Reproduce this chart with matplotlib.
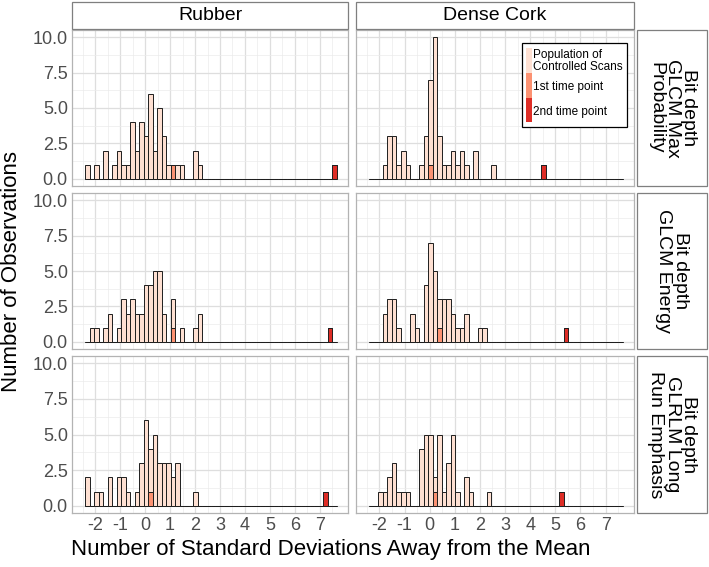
import numpy as np
import matplotlib
matplotlib.use("Agg")
import matplotlib.pyplot as plt
from matplotlib.patches import Rectangle

plt.rcParams['font.family'] = ['Liberation Sans', 'DejaVu Sans']

W, H = 709, 567

# shared histogram bins (in standard deviations)
bin_start = -2.4
bin_width = 0.18
n_bins = 56

materials = ["Rubber", "Dense Cork"]
features = ["Bit depth\nGLCM Max\nProbability",
            "Bit depth\nGLCM Energy",
            "Bit depth\nGLRLM Long\nRun Emphasis"]

# population of controlled scans: counts for the first 28 bins (the rest are empty)
rubber_max_prob = [1, 0, 1, 0, 2, 0, 1, 2, 1, 1, 4, 2, 4, 3, 6, 2, 5, 3, 1, 0, 1, 1, 0, 0, 2, 1, 0, 0]
rubber_energy = [0, 1, 1, 0, 1, 2, 0, 1, 3, 2, 3, 2, 2, 4, 4, 5, 5, 2, 0, 2, 0, 1, 0, 0, 1, 2, 0, 0]
rubber_long_run = [2, 0, 1, 1, 0, 2, 0, 2, 2, 1, 0, 1, 3, 6, 3, 5, 3, 3, 3, 2, 3, 0, 0, 0, 1, 0, 0, 0]
cork_max_prob = [0, 0, 0, 1, 3, 3, 1, 2, 1, 0, 0, 1, 3, 6, 10, 3, 1, 1, 2, 1, 2, 1, 0, 2, 0, 0, 0, 1]
cork_energy = [0, 0, 0, 2, 3, 3, 1, 0, 0, 2, 1, 0, 4, 7, 5, 2, 3, 3, 2, 1, 1, 2, 0, 0, 1, 1, 0, 0]
cork_long_run = [0, 0, 1, 1, 2, 3, 1, 1, 1, 0, 0, 4, 5, 5, 1, 5, 1, 3, 5, 1, 0, 2, 1, 0, 0, 0, 1, 0]

# the two follow-up scans (SD away from the mean), rows = features, cols = materials
first_point = [[1.11, 0.03], [1.11, 0.39], [0.21, 0.21]]
second_point = [[7.59, 4.53], [7.41, 5.43], [7.23, 5.25]]

population = [[rubber_max_prob, cork_max_prob],
              [rubber_energy, cork_energy],
              [rubber_long_run, cork_long_run]]

group_labels = ["Population of\nControlled Scans", "1st time point", "2nd time point"]
group_colors = ["#FEE0D2", "#FC9272", "#DE2D26"]

x_ticks = list(range(-2, 8))
y_ticks = [0, 2.5, 5, 7.5, 10]


def fx(px):
    return px / W


def fy(py):
    return 1 - py / H


fig = plt.figure(figsize=(W / 100, H / 100), dpi=100)

col_px = [(72, 348), (356, 634)]
row_px = [(30, 186), (193, 349), (356, 513)]
edges = bin_start + bin_width * np.arange(n_bins + 1)
centers = edges[:-1] + bin_width / 2

for r, (top, bot) in enumerate(row_px):
    for c, (left, right) in enumerate(col_px):
        ax = fig.add_axes([fx(left), fy(bot), fx(right) - fx(left), (bot - top) / H])
        pop = np.pad(population[r][c], (0, n_bins - len(population[r][c])))
        first = np.histogram([first_point[r][c]], bins=edges)[0]
        second = np.histogram([second_point[r][c]], bins=edges)[0]
        bottom = np.zeros(n_bins)
        for counts, color in [(second, group_colors[2]), (first, group_colors[1]), (pop, group_colors[0])]:
            ax.bar(centers, counts, width=bin_width, bottom=bottom, color=color,
                   edgecolor="#1E1E1E", linewidth=0.7, zorder=3)
            bottom = bottom + counts

        ax.set_xlim(-2.93, 8.13)
        ax.set_ylim(-0.5, 10.5)
        ax.set_xticks(x_ticks)
        ax.set_xticks(np.arange(-2.5, 8, 1), minor=True)
        ax.set_yticks(y_ticks)
        ax.set_yticks([1.25, 3.75, 6.25, 8.75], minor=True)
        ax.grid(which="major", color="#DEDEDE", linewidth=0.9, zorder=0)
        ax.grid(which="minor", color="#EBEBEB", linewidth=0.5, zorder=0)
        ax.set_axisbelow(True)
        ax.tick_params(which="both", length=0, labelsize=13, colors="#4D4D4D", pad=3)
        for s in ax.spines.values():
            s.set_color("#B3B3B3")
            s.set_linewidth(0.9)
        if c == 0:
            ax.set_yticklabels(["0.0", "2.5", "5.0", "7.5", "10.0"])
        else:
            ax.set_yticklabels([])
        if r == 2:
            ax.set_xticklabels([str(t) for t in x_ticks])
        else:
            ax.set_xticklabels([])

        if r == 0 and c == 1:
            # legend drawn inside the top-right panel
            lx0, ly0, lx1, ly1 = 521.7, 43.3, 627.3, 126.7
            fig.add_artist(Rectangle((fx(lx0), fy(ly1)), fx(lx1) - fx(lx0), (ly1 - ly0) / H,
                                     transform=fig.transFigure, facecolor="white",
                                     edgecolor="black", linewidth=0.9, zorder=10))
            keys = [(48.3, 73.3), (73.3, 97.7), (98.3, 121.7)]
            text_y = [61.2, 86.7, 111.7]
            for (k0, k1), ty, lab, col in zip(keys, text_y, group_labels, group_colors):
                fig.add_artist(Rectangle((fx(526), fy(k1)), fx(6), (k1 - k0) / H,
                                         transform=fig.transFigure, facecolor=col,
                                         edgecolor="none", zorder=11))
                fig.text(fx(533), fy(ty), lab, fontsize=8.5, va="center", ha="left",
                         linespacing=1.05, zorder=12)

# column strips
for c, (left, right) in enumerate(col_px):
    fig.add_artist(Rectangle((fx(left), fy(29)), fx(right) - fx(left), 27 / H,
                             transform=fig.transFigure, facecolor="white",
                             edgecolor="#7F7F7F", linewidth=0.9))
    fig.text(fx((left + right) / 2), fy(15.5), materials[c], fontsize=14,
             ha="center", va="center")

# row strips
for r, (top, bot) in enumerate(row_px):
    fig.add_artist(Rectangle((fx(637), fy(bot)), fx(70), (bot - top) / H,
                             transform=fig.transFigure, facecolor="white",
                             edgecolor="#7F7F7F", linewidth=0.9))
    fig.text(fx(672), fy((top + bot) / 2), features[r], fontsize=14, rotation=-90,
             ha="center", va="center", multialignment="center", linespacing=0.95)

fig.text(fx(12), fy(271), "Number of Observations", fontsize=16, rotation=90,
         ha="center", va="center")
fig.text(fx(331), fy(549), "Number of Standard Deviations Away from the Mean",
         fontsize=16, ha="center", va="center")

fig.savefig("out.png", dpi=100, facecolor="white")
